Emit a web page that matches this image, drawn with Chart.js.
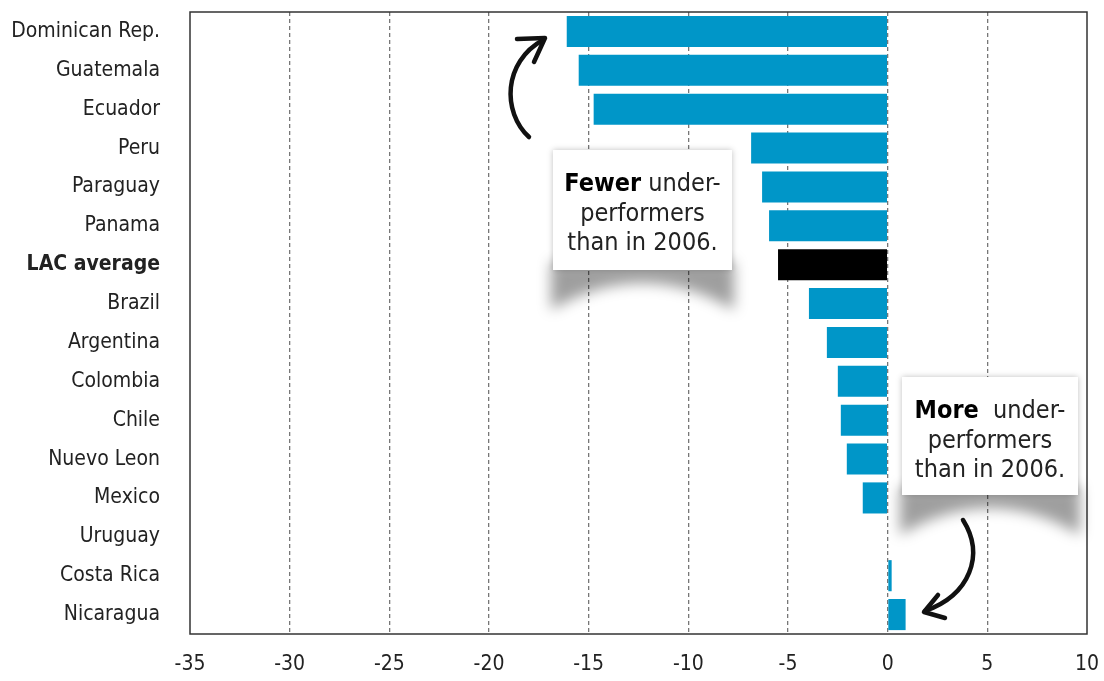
<!DOCTYPE html>
<html>
<head>
<meta charset="utf-8">
<script src="https://cdn.jsdelivr.net/npm/chart.js@4/dist/chart.umd.min.js"></script>
<style>
  body { margin: 0; background: #fff; }
  #wrap { width: 1104px; height: 681px; }
</style>
</head>
<body>
<div id="wrap"><canvas id="chart" width="1104" height="681"></canvas></div>
<script>
// change in share of low performers vs 2006 (percentage points)
const countries = ['Dominican Rep.', 'Guatemala', 'Ecuador', 'Peru', 'Paraguay', 'Panama', 'LAC average',
    'Brazil', 'Argentina', 'Colombia', 'Chile', 'Nuevo Leon', 'Mexico', 'Uruguay', 'Costa Rica', 'Nicaragua'];
const changeValues = [-16.1, -15.5, -14.75, -6.85, -6.3, -5.95, -5.5,
    -3.95, -3.05, -2.5, -2.35, -2.05, -1.25, 0, 0.2, 0.9];
const xTicks = [-35, -30, -25, -20, -15, -10, -5, 0, 5, 10];

const FONT = "'Liberation Sans Narrow', 'DejaVu Sans Condensed', sans-serif";
const BLUE = '#0096c8';

// callout boxes + arrows, drawn on top of the chart
const annotations = {
    id: 'annotations',
    afterDraw(chart) {
        const ctx = chart.ctx;
        const area = chart.chartArea;

        // frame
        ctx.save();
        ctx.strokeStyle = '#333';
        ctx.lineWidth = 1.5;
        ctx.strokeRect(area.left, area.top, area.right - area.left, area.bottom - area.top);
        ctx.restore();

        drawCallout(ctx, 553, 150, 179, 120, 'Fewer', ' under-');
        drawCallout(ctx, 902, 377, 176, 118, 'More', '  under-');

        // arrow: pointing up to the big decreases
        ctx.save();
        ctx.strokeStyle = '#111';
        ctx.lineWidth = 4.5;
        ctx.lineCap = 'round';
        ctx.lineJoin = 'round';
        ctx.beginPath();
        ctx.moveTo(529, 137);
        ctx.bezierCurveTo(502, 112, 503, 62, 543, 40);
        ctx.stroke();
        ctx.beginPath();
        ctx.moveTo(517, 39);
        ctx.lineTo(545, 38);
        ctx.lineTo(534, 62);
        ctx.stroke();

        // arrow: pointing down to Nicaragua
        ctx.beginPath();
        ctx.moveTo(963, 520);
        ctx.bezierCurveTo(985, 555, 970, 595, 925, 611);
        ctx.stroke();
        ctx.beginPath();
        ctx.moveTo(938, 595);
        ctx.lineTo(924, 612);
        ctx.lineTo(945, 618);
        ctx.stroke();
        ctx.restore();
    }
};

function drawCallout(ctx, x, y, w, h, boldWord, rest) {
    // curled shadow beneath the box (shape drawn off-canvas, only its blur lands here)
    const off = 3000;
    ctx.save();
    ctx.fillStyle = '#000';
    ctx.shadowColor = 'rgba(0,0,0,0.38)';
    ctx.shadowBlur = 14;
    ctx.shadowOffsetX = off;
    ctx.beginPath();
    ctx.moveTo(x - 2 - off, y + h - 8);
    ctx.lineTo(x + w + 2 - off, y + h - 8);
    ctx.lineTo(x + w + 2 - off, y + h + 40);
    ctx.quadraticCurveTo(x + w / 2 - off, y + h - 14, x - 2 - off, y + h + 40);
    ctx.closePath();
    ctx.fill();
    ctx.restore();

    ctx.save();
    ctx.shadowColor = 'rgba(0,0,0,0.25)';
    ctx.shadowBlur = 6;
    ctx.fillStyle = '#fff';
    ctx.fillRect(x, y, w, h);
    ctx.restore();

    ctx.save();
    ctx.textBaseline = 'middle';
    const cx = x + w / 2;
    ctx.font = 'bold 25px ' + FONT;
    const bw = ctx.measureText(boldWord).width;
    ctx.font = '25px ' + FONT;
    const rw = ctx.measureText(rest).width;
    const sx = cx - (bw + rw) / 2;
    ctx.textAlign = 'left';
    ctx.font = 'bold 25px ' + FONT;
    ctx.fillStyle = '#000';
    ctx.fillText(boldWord, sx, y + 34);
    ctx.font = '25px ' + FONT;
    ctx.fillStyle = '#222';
    ctx.fillText(rest, sx + bw, y + 34);
    ctx.textAlign = 'center';
    ctx.fillText('performers', cx, y + 64);
    ctx.fillText('than in 2006.', cx, y + 93);
    ctx.restore();
}

new Chart(document.getElementById('chart'), {
    type: 'bar',
    data: {
        labels: countries,
        datasets: [{
            data: changeValues,
            backgroundColor: countries.map(c => c === 'LAC average' ? '#000' : BLUE),
            barPercentage: 0.8,
            categoryPercentage: 1.0
        }]
    },
    options: {
        indexAxis: 'y',
        responsive: false,
        animation: false,
        layout: { padding: { top: 12, right: 17, left: 0, bottom: 0 } },
        plugins: { legend: { display: false }, tooltip: { enabled: false } },
        scales: {
            x: {
                min: -35,
                max: 10,
                afterBuildTicks: scale => { scale.ticks = xTicks.map(v => ({ value: v })); },
                afterFit: scale => {
                    scale.height = 47;
                    scale.paddingLeft = 0;
                    scale.paddingRight = 0;
                },
                grid: {
                    drawTicks: false,
                    color: ctx => (ctx.tick && (ctx.tick.value === -35 || ctx.tick.value === 10)) ? 'rgba(0,0,0,0)' : '#777',
                    lineWidth: 1.3
                },
                border: { display: false, dash: [4, 3] },
                ticks: {
                    padding: 18,
                    color: '#222',
                    font: { family: FONT, size: 21 }
                }
            },
            y: {
                afterFit: scale => {
                    scale.width = 190;
                    scale.paddingTop = 0;
                    scale.paddingBottom = 0;
                },
                grid: { display: false, drawTicks: false },
                border: { display: false },
                ticks: {
                    padding: 30,
                    color: '#222',
                    font: ctx => ({
                        family: FONT,
                        size: 21,
                        weight: countries[ctx.index] === 'LAC average' ? 'bold' : 'normal'
                    })
                }
            }
        }
    },
    plugins: [annotations]
});
</script>
</body>
</html>
